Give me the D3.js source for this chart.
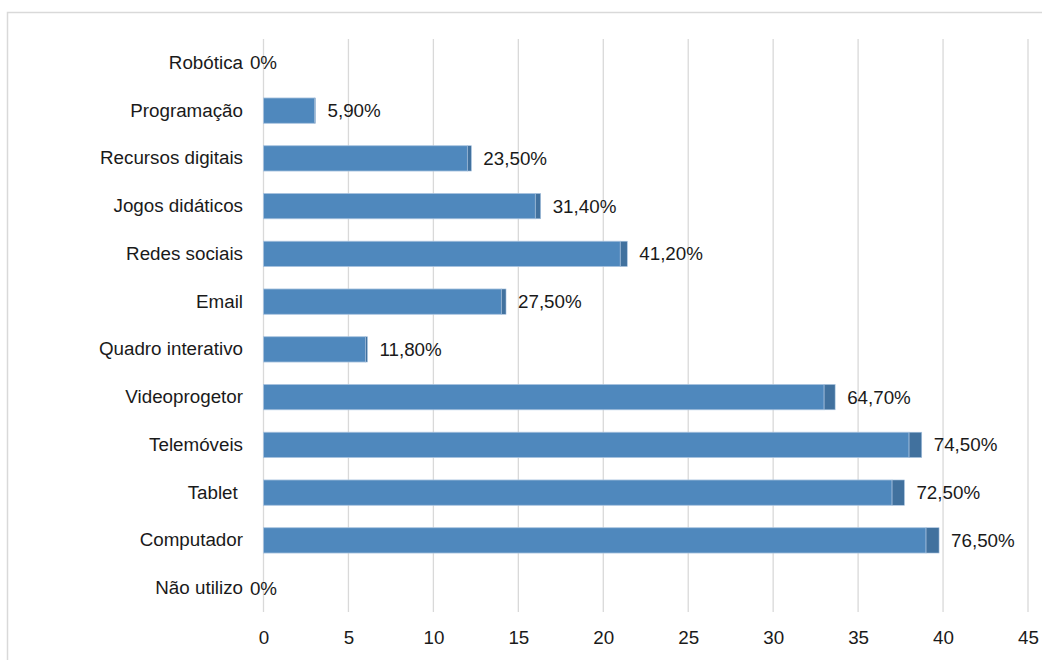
<!DOCTYPE html>
<html>
<head>
<meta charset="utf-8">
<script src="https://cdn.jsdelivr.net/npm/d3@7"></script>
<style>
  body { margin: 0; background: #fff; }
  text { font-family: "Liberation Sans", Arial, sans-serif; fill: #1a1a1a; white-space: pre; }
</style>
</head>
<body>
<div id="chart"></div>
<script>
// categories top to bottom
var categories = ['Robótica', 'Programação', 'Recursos digitais', 'Jogos didáticos', 'Redes sociais', 'Email',
  'Quadro interativo', 'Videoprogetor', 'Telemóveis', 'Tablet ', 'Computador', 'Não utilizo'];
// number of answers
var counts = [0, 3, 12, 16, 21, 14, 6, 33, 38, 37, 39, 0];
// share of answers (second stacked series)
var shares = [0, 0.059, 0.235, 0.314, 0.412, 0.275, 0.118, 0.647, 0.745, 0.725, 0.765, 0];
var xTicks = [0, 5, 10, 15, 20, 25, 30, 35, 40, 45];

var fontFam = '"Liberation Sans", Arial, sans-serif';
var fontSize = '18.8px';

var w = 1042, h = 660;
var svg = d3.select('#chart').append('svg')
  .attr('width', w)
  .attr('height', h);

// chart frame
svg.append('rect')
  .attr('x', 7.5).attr('y', 12.5)
  .attr('width', 1100).attr('height', 700)
  .attr('fill', 'none')
  .attr('stroke', '#d9d9d9')
  .attr('stroke-width', 1.5);

var x = d3.scaleLinear().domain([0, 45]).range([263.5, 1028]);
var y = d3.scaleBand().domain(categories).range([39, 612]).paddingInner(0.47).paddingOuter(0.235);

// vertical gridlines
svg.append('g')
  .selectAll('line')
  .data(xTicks)
  .enter().append('line')
  .attr('x1', function(d) { return x(d); })
  .attr('x2', function(d) { return x(d); })
  .attr('y1', 39).attr('y2', 612)
  .attr('stroke', '#d9d9d9')
  .attr('stroke-width', 1.3);

// x axis tick labels
var xAxis = d3.axisBottom(x).tickValues(xTicks).tickSize(0).tickPadding(0);
var gx = svg.append('g')
  .attr('transform', 'translate(0,' + 629 + ')')
  .call(xAxis);
gx.select('.domain').remove();
gx.selectAll('text')
  .attr('dy', '0.8em')
  .style('font-size', fontSize)
  .style('font-family', fontFam)
  .attr('fill', '#1a1a1a');

// y axis category labels
var yAxis = d3.axisLeft(y).tickSize(0).tickPadding(0);
var gy = svg.append('g')
  .attr('transform', 'translate(243,0)')
  .call(yAxis);
gy.select('.domain').remove();
gy.selectAll('text')
  .style('font-size', fontSize)
  .style('font-family', fontFam)
  .attr('fill', '#1a1a1a');

var rows = categories.map(function(c, i) { return { cat: c, count: counts[i], share: shares[i] }; });

// main bars (counts)
svg.append('g').selectAll('rect')
  .data(rows)
  .enter().append('rect')
  .attr('x', x(0))
  .attr('y', function(d) { return y(d.cat); })
  .attr('width', function(d) { return x(d.count) - x(0); })
  .attr('height', y.bandwidth())
  .attr('fill', '#4f88bd')
  .attr('stroke', '#a9c3df')
  .attr('stroke-width', function(d) { return d.count ? 0.8 : 0; });

// stacked share segment
svg.append('g').selectAll('rect')
  .data(rows)
  .enter().append('rect')
  .attr('x', function(d) { return x(d.count); })
  .attr('y', function(d) { return y(d.cat); })
  .attr('width', function(d) { return x(d.count + d.share) - x(d.count); })
  .attr('height', y.bandwidth())
  .attr('fill', '#41719e')
  .attr('stroke', '#a9c3df')
  .attr('stroke-width', function(d) { return d.share ? 0.6 : 0; });

// data labels
var fmt = function(v) {
  return v === 0 ? '0%' : (v * 100).toFixed(2).replace('.', ',') + '%';
};
svg.append('g').selectAll('text')
  .data(rows)
  .enter().append('text')
  .attr('x', function(d) { return d.share ? x(d.count + d.share) + 12 : x(0); })
  .attr('y', function(d) { return y(d.cat) + y.bandwidth() / 2; })
  .attr('dy', '0.35em')
  .attr('text-anchor', function(d) { return d.share ? 'start' : 'middle'; })
  .style('font-size', fontSize)
  .text(function(d) { return fmt(d.share); });
</script>
</body>
</html>
